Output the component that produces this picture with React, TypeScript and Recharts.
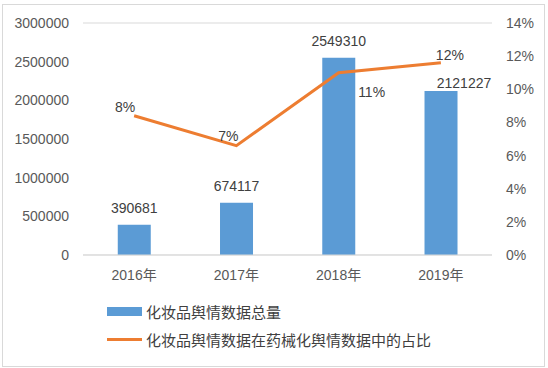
import {
  ComposedChart,
  Bar,
  Line,
  XAxis,
  YAxis,
  CartesianGrid,
  LabelList,
} from "recharts";

const years = ["2016年", "2017年", "2018年", "2019年"];
const totals = [390681, 674117, 2549310, 2121227];
const shares = [0.084, 0.066, 0.11, 0.116];
const leftTicks = [0, 500000, 1000000, 1500000, 2000000, 2500000, 3000000];
const rightTicks = [0, 0.02, 0.04, 0.06, 0.08, 0.1, 0.12, 0.14];

const BAR_NAME = "化妆品舆情数据总量";
const LINE_NAME = "化妆品舆情数据在药械化舆情数据中的占比";

const data = years.map((year, i) => ({
  year,
  total: totals[i],
  share: shares[i],
}));

const FONT = '"Liberation Sans", Arial, "Noto Sans CJK SC", sans-serif';

// label nudges, same as the excel layout
const barLabelShift = [
  [0, -17],
  [0, -17],
  [0, -17],
  [23, -8],
];
const lineLabelShift = [
  [-9, -9],
  [-8, -10],
  [33, 19],
  [9, -8],
];

const BarLabel = (props: any) => {
  const { x, y, width, value, index } = props;
  const [dx, dy] = barLabelShift[index];
  return (
    <text
      x={x + width / 2 + dx}
      y={y + dy}
      textAnchor="middle"
      dominantBaseline="central"
      fill="#404040"
      fontSize={14}
      fontFamily={FONT}
    >
      {value}
    </text>
  );
};

const LineLabel = (props: any) => {
  const { x, y, value, index } = props;
  const [dx, dy] = lineLabelShift[index];
  return (
    <text
      x={x + dx}
      y={y + dy}
      textAnchor="middle"
      dominantBaseline="central"
      fill="#404040"
      fontSize={14}
      fontFamily={FONT}
    >
      {Math.round(value * 100) + "%"}
    </text>
  );
};

const LegendBox = () => (
  <div
    style={{
      position: "absolute",
      left: 107,
      top: 298,
      fontFamily: FONT,
      fontSize: 15,
      color: "#404040",
    }}
  >
    <div style={{ display: "flex", alignItems: "center", height: 26 }}>
      <span
        style={{
          display: "inline-block",
          width: 35,
          height: 9,
          background: "#5B9BD5",
          marginRight: 4,
        }}
      />
      {BAR_NAME}
    </div>
    <div style={{ display: "flex", alignItems: "center", height: 30 }}>
      <span
        style={{
          display: "inline-block",
          width: 35,
          height: 3,
          background: "#ED7D31",
          marginRight: 4,
        }}
      />
      {LINE_NAME}
    </div>
  </div>
);

export default function App() {
  return (
    <div
      style={{
        position: "absolute",
        left: 0,
        top: 0,
        width: 548,
        height: 368,
        background: "#fff",
      }}
    >
      <div
        style={{
          position: "absolute",
          left: 2,
          top: 4,
          width: 541,
          height: 361,
          border: "1px solid #d9d9d9",
        }}
      />
      <ComposedChart
        width={548}
        height={368}
        data={data}
        margin={{ top: 23, right: 0, left: 0, bottom: 83 }}
        barCategoryGap="34%"
      >
        <CartesianGrid vertical={false} stroke="#d9d9d9" />
        <XAxis
          dataKey="year"
          height={30}
          tickLine={false}
          axisLine={{ stroke: "#d9d9d9" }}
          tick={{ fill: "#595959", fontSize: 14, fontFamily: FONT }}
          tickMargin={9}
        />
        <YAxis
          yAxisId="left"
          width={83}
          domain={[0, 3000000]}
          ticks={leftTicks}
          tickLine={false}
          axisLine={false}
          tick={{ fill: "#595959", fontSize: 14, fontFamily: FONT }}
          tickMargin={8}
        />
        <YAxis
          yAxisId="right"
          orientation="right"
          width={56}
          domain={[0, 0.14]}
          ticks={rightTicks}
          tickFormatter={(v: number) => Math.round(v * 100) + "%"}
          tickLine={false}
          axisLine={false}
          tick={{ fill: "#595959", fontSize: 14, fontFamily: FONT }}
          tickMargin={8}
        />
        <Bar
          yAxisId="left"
          dataKey="total"
          name={BAR_NAME}
          fill="#5B9BD5"
          isAnimationActive={false}
        >
          <LabelList dataKey="total" content={BarLabel} />
        </Bar>
        <Line
          yAxisId="right"
          dataKey="share"
          name={LINE_NAME}
          stroke="#ED7D31"
          strokeWidth={3}
          dot={false}
          activeDot={false}
          isAnimationActive={false}
        >
          <LabelList dataKey="share" content={LineLabel} />
        </Line>
      </ComposedChart>
      <LegendBox />
    </div>
  );
}
